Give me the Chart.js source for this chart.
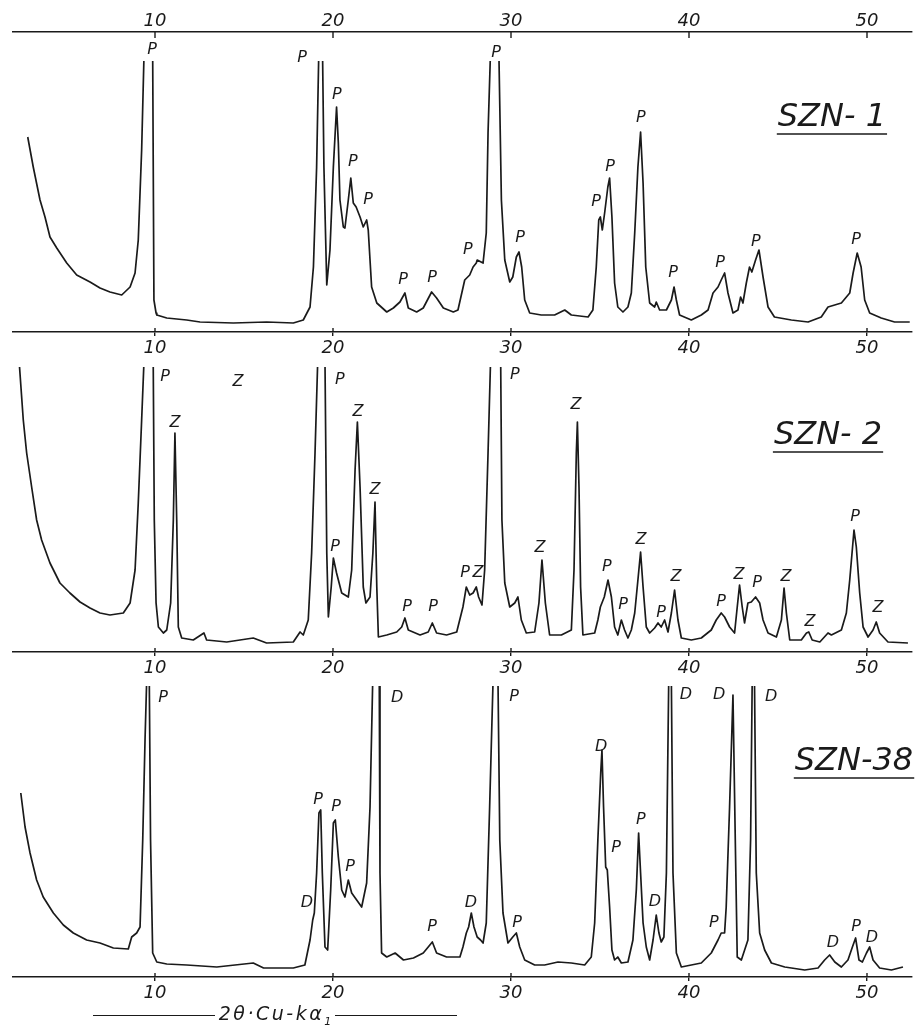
<!DOCTYPE html>
<html>
<head>
<meta charset="utf-8">
<title>SZN diffractograms</title>
<script src="https://cdn.jsdelivr.net/npm/chart.js@4.4.0/dist/chart.umd.min.js"></script>
<style>
  html, body { margin: 0; padding: 0; background: #fff; }
  #fig { position: relative; width: 918px; height: 1025px; overflow: hidden; }
  .panel { position: absolute; left: 0; width: 918px; }
  #caption {
    position: absolute; left: 93px; top: 1003px; width: 364px; height: 24px;
    display: flex; align-items: center;
    font: italic 19px 'DejaVu Sans', Verdana, sans-serif; color: #1a1a1a;
  }
  #caption .rule { flex: 1; border-top: 1.5px solid #1a1a1a; }
  #caption .txt { padding: 0 4px; white-space: nowrap; letter-spacing: 2.5px; }
  #caption sub { font-size: 11px; letter-spacing: 0; }
</style>
</head>
<body>
<div id="fig">
  <div class="panel" style="top:0;height:362px"><canvas id="c1"></canvas></div>
  <div class="panel" style="top:332px;height:350px"><canvas id="c2"></canvas></div>
  <div class="panel" style="top:652px;height:355px"><canvas id="c3"></canvas></div>
  <div id="caption"><span class="rule"></span><span class="txt">2θ·Cu-kα<sub>1</sub></span><span class="rule"></span></div>
</div>

<script>
'use strict';

// 2-theta (deg) and intensity (arbitrary units, off-scale peaks exceed the clip)
let theta1 = [2.85, 3.16, 3.54, 3.82, 4.10, 4.48, 5.04, 5.60, 6.35, 6.91,
  7.47, 8.13, 8.60, 8.88, 9.06, 9.25, 9.38, 9.62, 9.87, 9.94,
  10.06, 10.10, 10.66, 11.78, 12.53, 14.40, 16.27, 17.77, 18.33, 18.71,
  18.90, 19.08, 19.33, 19.49, 19.65, 19.83, 20.02, 20.20, 20.30, 20.39,
  20.58, 20.67, 20.86, 21.00, 21.14, 21.30, 21.52, 21.70, 21.89, 21.98,
  22.17, 22.46, 23.02, 23.39, 23.76, 24.04, 24.23, 24.70, 25.07, 25.54,
  25.82, 26.20, 26.76, 27.02, 27.40, 27.68, 27.87, 28.05, 28.10, 28.43,
  28.61, 28.71, 28.84, 29.08, 29.33, 29.46, 29.65, 29.93, 30.10, 30.30,
  30.45, 30.60, 30.77, 31.05, 31.70, 32.45, 33.02, 33.39, 34.33, 34.60,
  34.79, 34.93, 35.02, 35.13, 35.26, 35.44, 35.54, 35.67, 35.82, 36.00,
  36.29, 36.57, 36.76, 36.95, 37.13, 37.28, 37.42, 37.57, 37.79, 38.07,
  38.16, 38.35, 38.73, 39.01, 39.16, 39.29, 39.47, 40.13, 40.69, 41.07,
  41.35, 41.63, 41.81, 42.00, 42.19, 42.47, 42.75, 42.90, 43.03, 43.22,
  43.40, 43.53, 43.74, 43.93, 44.16, 44.44, 44.80, 45.75, 46.69, 47.43,
  47.81, 48.56, 49.03, 49.22, 49.45, 49.67, 49.87, 50.15, 50.80, 51.55,
  52.40];
let counts1 = [195, 165, 132, 115, 95, 84, 69, 57, 50, 44,
  40, 37, 45, 59, 92, 182, 275, 900, 275, 32,
  19, 17, 14, 12, 10, 9, 10, 9, 12, 25,
  65, 165, 400, 165, 47, 82, 165, 225, 189, 132,
  105, 104, 132, 154, 129, 125, 115, 105, 112, 102,
  45, 29, 20, 24, 30, 39, 24, 20, 24, 40,
  34, 24, 20, 22, 52, 57, 65, 69, 72, 69,
  99, 199, 275, 900, 268, 132, 72, 50, 55, 75,
  80, 65, 32, 19, 17, 17, 22, 17, 15, 22,
  65, 112, 115, 102, 119, 145, 154, 115, 49, 25,
  20, 25, 39, 99, 165, 200, 149, 65, 29, 25,
  30, 22, 22, 32, 45, 32, 17, 12, 17, 22,
  39, 45, 52, 59, 39, 19, 22, 35, 29, 49,
  65, 60, 72, 82, 55, 25, 15, 12, 10, 15,
  25, 29, 39, 59, 79, 65, 32, 19, 14, 10,
  10];

let theta2 = [2.33, 2.60, 2.79, 3.07, 3.35, 3.63, 4.10, 4.66, 5.22, 5.79,
  6.35, 6.91, 7.47, 8.22, 8.60, 8.88, 9.06, 9.25, 9.38, 9.64,
  9.90, 9.96, 10.06, 10.19, 10.47, 10.66, 10.88, 11.03, 11.12, 11.22,
  11.31, 11.50, 12.15, 12.75, 12.90, 14.03, 15.52, 16.27, 17.77, 18.15,
  18.33, 18.61, 18.80, 18.99, 19.14, 19.35, 19.55, 19.65, 19.74, 19.90,
  20.02, 20.20, 20.49, 20.86, 21.05, 21.24, 21.37, 21.52, 21.70, 21.85,
  22.08, 22.24, 22.36, 22.46, 22.55, 23.02, 23.58, 23.86, 24.04, 24.23,
  24.89, 25.35, 25.58, 25.82, 26.38, 26.95, 27.30, 27.49, 27.68, 27.87,
  28.05, 28.18, 28.37, 28.52, 28.71, 28.85, 29.13, 29.42, 29.49, 29.65,
  29.93, 30.21, 30.39, 30.58, 30.86, 31.33, 31.57, 31.74, 31.93, 32.17,
  32.83, 33.39, 33.54, 33.67, 33.73, 33.82, 33.91, 34.04, 34.70, 34.88,
  35.02, 35.24, 35.45, 35.64, 35.82, 36.00, 36.20, 36.38, 36.57, 36.76,
  36.95, 37.13, 37.28, 37.42, 37.60, 37.79, 38.07, 38.26, 38.44, 38.63,
  38.82, 39.01, 39.19, 39.38, 39.57, 40.13, 40.69, 41.25, 41.53, 41.81,
  42.00, 42.28, 42.56, 42.71, 42.84, 42.99, 43.12, 43.31, 43.50, 43.74,
  43.97, 44.16, 44.44, 44.91, 45.19, 45.34, 45.47, 45.66, 46.31, 46.60,
  46.73, 46.92, 47.35, 47.81, 48.00, 48.56, 48.84, 49.03, 49.27, 49.40,
  49.59, 49.78, 50.06, 50.34, 50.52, 50.71, 51.18, 52.30];
let counts2 = [300, 232, 199, 165, 132, 112, 89, 69, 59, 50,
  44, 39, 37, 39, 49, 82, 149, 232, 290, 900,
  290, 132, 49, 25, 19, 22, 49, 132, 219, 132,
  25, 14, 12, 19, 12, 10, 14, 9, 10, 20,
  17, 32, 99, 199, 290, 900, 290, 99, 35, 65,
  94, 79, 59, 55, 82, 182, 230, 165, 65, 49,
  55, 99, 150, 65, 15, 17, 20, 25, 34, 22,
  17, 20, 29, 19, 17, 20, 45, 65, 57, 59,
  65, 55, 47, 82, 199, 290, 900, 290, 132, 69,
  45, 49, 55, 32, 19, 20, 49, 92, 49, 17,
  17, 22, 82, 199, 230, 165, 65, 17, 19, 32,
  45, 55, 72, 55, 25, 17, 32, 22, 14, 22,
  39, 72, 100, 65, 25, 19, 24, 29, 25, 32,
  20, 39, 62, 32, 14, 12, 14, 22, 32, 39,
  35, 25, 19, 45, 67, 45, 29, 49, 50, 55,
  49, 32, 19, 15, 32, 64, 39, 12, 12, 19,
  20, 12, 10, 19, 17, 22, 39, 72, 122, 105,
  59, 25, 15, 22, 30, 19, 10, 9];

let theta3 = [2.46, 2.70, 2.98, 3.35, 3.72, 4.29, 4.85, 5.41, 6.16, 6.91,
  7.66, 8.50, 8.69, 8.97, 9.16, 9.31, 9.44, 9.53, 9.60, 9.68,
  9.75, 9.87, 10.10, 10.66, 11.78, 13.47, 15.52, 16.10, 17.77, 18.42,
  18.71, 18.86, 18.95, 19.08, 19.21, 19.31, 19.40, 19.55, 19.70, 19.87,
  20.02, 20.13, 20.30, 20.49, 20.67, 20.86, 21.05, 21.33, 21.61, 21.89,
  22.08, 22.23, 22.42, 22.60, 22.64, 22.73, 23.02, 23.49, 23.96, 24.52,
  25.07, 25.35, 25.58, 25.82, 26.38, 27.13, 27.30, 27.49, 27.62, 27.77,
  27.92, 28.10, 28.29, 28.43, 28.61, 28.80, 28.99, 29.13, 29.27, 29.37,
  29.55, 29.83, 30.10, 30.30, 30.49, 30.77, 31.33, 31.89, 32.64, 33.39,
  34.14, 34.51, 34.70, 34.88, 35.04, 35.11, 35.20, 35.32, 35.41, 35.54,
  35.67, 35.82, 36.00, 36.20, 36.57, 36.85, 37.04, 37.17, 37.28, 37.42,
  37.60, 37.79, 37.98, 38.16, 38.31, 38.44, 38.59, 38.73, 38.86, 38.94,
  39.01, 39.10, 39.29, 39.57, 40.13, 40.69, 41.25, 41.63, 41.81, 42.00,
  42.09, 42.28, 42.47, 42.60, 42.71, 42.94, 43.31, 43.46, 43.55, 43.62,
  43.68, 43.78, 43.97, 44.25, 44.63, 45.38, 46.50, 47.25, 47.62, 47.90,
  48.19, 48.56, 48.93, 49.18, 49.36, 49.55, 49.74, 49.97, 50.15, 50.34,
  50.71, 51.37, 52.02];
let counts3 = [184, 150, 124, 97, 80, 64, 52, 44, 37, 34,
  29, 28, 40, 44, 50, 137, 237, 295, 900, 295,
  137, 24, 15, 13, 12, 10, 14, 9, 9, 12,
  37, 57, 64, 104, 164, 167, 104, 30, 27, 87,
  154, 157, 120, 87, 80, 97, 84, 77, 70, 94,
  170, 295, 900, 295, 104, 24, 20, 24, 17, 19,
  24, 30, 35, 24, 20, 20, 30, 44, 50, 64,
  50, 40, 37, 34, 54, 170, 295, 900, 295, 137,
  64, 34, 40, 44, 30, 17, 12, 12, 15, 14,
  12, 20, 54, 137, 204, 227, 170, 110, 107, 70,
  27, 17, 20, 14, 15, 37, 87, 144, 104, 54,
  30, 17, 37, 62, 44, 35, 40, 104, 295, 900,
  295, 104, 24, 10, 12, 14, 24, 37, 44, 44,
  70, 170, 282, 137, 20, 17, 37, 137, 295, 900,
  295, 104, 44, 27, 14, 10, 7, 9, 17, 22,
  15, 10, 17, 30, 39, 17, 15, 24, 30, 17,
  9, 7, 10];

// phase marks: P, Z, D with the 2-theta / height they are written at
let phase1 = ['P', 'P', 'P', 'P', 'P', 'P', 'P', 'P', 'P', 'P', 'P', 'P', 'P', 'P', 'P', 'P', 'P'];
let phaseTheta1 = [9.83, 18.26, 20.22, 21.12, 21.97, 23.93, 25.56, 27.58, 29.16, 30.51, 34.78, 35.56, 37.30, 39.10, 41.74, 43.76, 49.38];
let phaseAt1 = [282, 274, 237, 170, 132, 52, 54, 82, 279, 94, 130, 165, 214, 59, 69, 90, 92];

let phase2 = ['P', 'Z', 'Z', 'P', 'Z', 'Z', 'P', 'P', 'P', 'P', 'Z', 'P', 'Z', 'Z', 'P', 'P', 'Z', 'P', 'Z', 'P', 'Z', 'P', 'Z', 'Z', 'P', 'Z'];
let phaseTheta2 = [10.56, 14.66, 11.12, 20.39, 21.40, 22.36, 20.11, 24.16, 25.62, 27.42, 28.15, 30.22, 31.63, 33.65, 35.39, 36.29, 37.30, 38.43, 39.27, 41.80, 42.81, 43.82, 45.45, 46.80, 49.33, 50.62];
let phaseAt2 = [275, 270, 229, 272, 240, 162, 105, 45, 45, 79, 79, 277, 104, 247, 85, 47, 112, 39, 75, 50, 77, 69, 75, 30, 135, 44];

let phase3 = ['P', 'D', 'D', 'P', 'P', 'P', 'P', 'D', 'P', 'P', 'D', 'P', 'P', 'D', 'D', 'D', 'P', 'D', 'D', 'P', 'D'];
let phaseTheta3 = [10.45, 23.60, 18.54, 19.16, 20.17, 20.96, 25.56, 27.75, 30.17, 30.34, 35.06, 35.90, 37.30, 38.09, 39.83, 41.69, 41.40, 44.61, 48.09, 49.38, 50.28];
let phaseAt3 = [279, 279, 74, 177, 170, 110, 50, 74, 280, 54, 230, 129, 157, 75, 282, 282, 54, 280, 34, 50, 39];

let sampleNames = ['SZN- 1', 'SZN- 2', 'SZN-38'];
let tickValues = [10, 20, 30, 40, 50];

const INK = '#1a1a1a';
const FACE = "'DejaVu Sans', Verdana, sans-serif";
const TICK_FONT = { family: FACE, size: 18, style: 'italic' };

// draws inward tick marks, phase letters and the underlined sample name
const figureMarks = {
  id: 'figureMarks',
  afterDatasetsDraw( chart, args, opts ) {
    const ctx = chart.ctx;
    const xs = chart.scales.x;
    const ys = chart.scales.y;
    ctx.save();
    ctx.strokeStyle = INK;
    ctx.fillStyle = INK;
    ctx.lineWidth = 1.4;

    opts.inward.forEach( function( item ) {
      let s = chart.scales[item[0]];
      let edge = s.position === 'top' ? s.bottom : s.top;
      let dir = s.position === 'top' ? 1 : -1;
      s.ticks.forEach( function( t ) {
        let px = s.getPixelForValue( t.value );
        ctx.beginPath();
        ctx.moveTo( px, edge );
        ctx.lineTo( px, edge + dir * item[1] );
        ctx.stroke();
      } );
    } );

    ctx.font = 'italic 16px ' + FACE;
    ctx.textAlign = 'center';
    ctx.textBaseline = 'middle';
    for( let i = 0; i < opts.letters.length; i++ ) {
      ctx.fillText( opts.letters[i], xs.getPixelForValue( opts.at[i][0] ), ys.getPixelForValue( opts.at[i][1] ) );
    }

    ctx.font = 'italic 32px ' + FACE;
    let nx = xs.getPixelForValue( opts.name.theta );
    let ny = ys.getPixelForValue( opts.name.height );
    ctx.fillText( opts.name.text, nx, ny );
    let w = ctx.measureText( opts.name.text ).width + 2;
    ctx.lineWidth = 1.6;
    ctx.beginPath();
    ctx.moveTo( nx - w / 2, ny + 16 );
    ctx.lineTo( nx + w / 2, ny + 16 );
    ctx.stroke();
    ctx.restore();
  }
};

// only the decade ticks are drawn
function decadeTicks( scale ) {
  scale.ticks = tickValues.map( v => ( { value: v } ) );
}

function xAxis( position, height, opts ) {
  return {
    type: 'linear',
    position: position,
    min: 2,
    max: 52.5,
    afterBuildTicks: decadeTicks,
    afterFit: s => { s.height = height; },
    border: { display: true, color: INK, width: 1.6 },
    grid: { display: true, drawOnChartArea: false, drawTicks: opts.outTick > 0, tickLength: opts.outTick, color: INK, lineWidth: 1.4 },
    ticks: { display: true, font: TICK_FONT, color: INK, padding: opts.pad, maxRotation: 0, autoSkip: false }
  };
}

function makePanel( id, theta, counts, yMax, clipTop, scales, inward, letters, letterTheta, letterAt, name ) {
  let pts = theta.map( ( t, i ) => ( { x: t, y: counts[i] } ) );
  scales.y = { display: false, min: 0, max: yMax };
  return new Chart( document.getElementById( id ), {
    type: 'line',
    data: {
      datasets: [{
        data: pts,
        borderColor: INK,
        borderWidth: 1.7,
        pointRadius: 0,
        tension: 0,
        borderJoinStyle: 'round',
        fill: false,
        clip: { left: 0, top: clipTop, right: 0, bottom: 0 }
      }]
    },
    options: {
      responsive: true,
      maintainAspectRatio: false,
      animation: false,
      layout: { padding: { left: 12.6, right: 6.5, top: 0, bottom: 0 } },
      plugins: {
        legend: { display: false },
        tooltip: { enabled: false },
        figureMarks: {
          inward: inward,
          letters: letters,
          at: letterTheta.map( ( t, i ) => [t, letterAt[i]] ),
          name: name
        }
      },
      scales: scales
    },
    plugins: [figureMarks]
  } );
}

makePanel( 'c1', theta1, counts1, 300, -29,
  {
    xTop: xAxis( 'top', 32, { outTick: 0, pad: 0 } ),
    x: xAxis( 'bottom', 30, { outTick: 4, pad: 2 } )
  },
  [['xTop', 6], ['x', 4]],
  phase1, phaseTheta1, phaseAt1,
  { text: sampleNames[0], theta: 48.03, height: 214 } );

makePanel( 'c2', theta2, counts2, 320, -35,
  { x: xAxis( 'bottom', 30, { outTick: 4, pad: 2 } ) },
  [['x', 4]],
  phase2, phaseTheta2, phaseAt2,
  { text: sampleNames[1], theta: 47.81, height: 216 } );

makePanel( 'c3', theta3, counts3, 325, -34,
  { x: xAxis( 'bottom', 30, { outTick: 4, pad: 2 } ) },
  [['x', 4]],
  phase3, phaseTheta3, phaseAt3,
  { text: sampleNames[2], theta: 49.27, height: 215 } );
</script>
</body>
</html>
